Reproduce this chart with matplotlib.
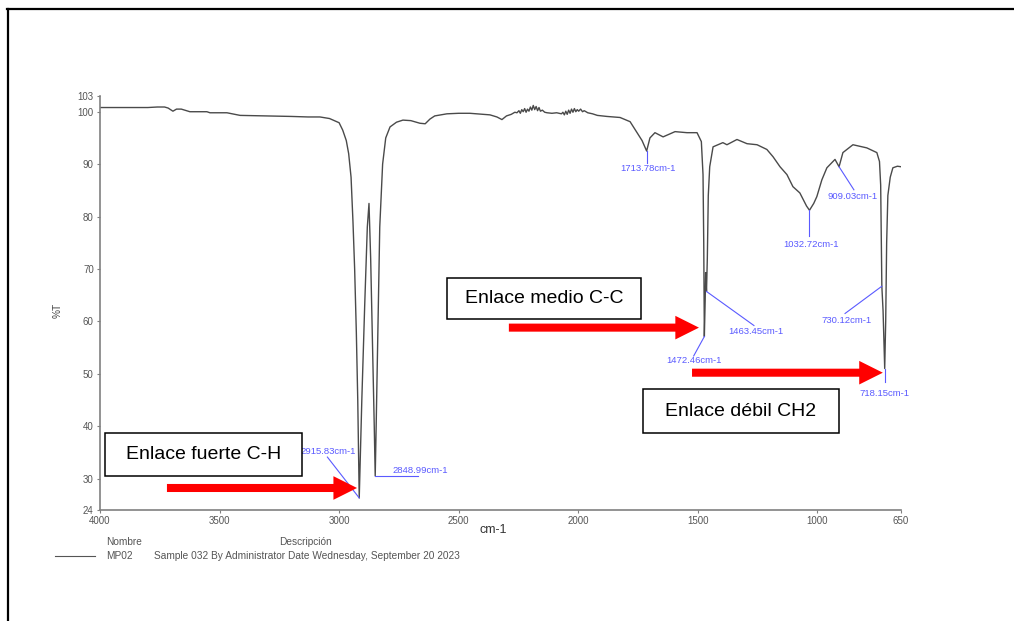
import matplotlib.pyplot as plt
from matplotlib.patches import Rectangle
from matplotlib.lines import Line2D

plt.rcParams['font.family'] = ['Liberation Sans', 'DejaVu Sans']

# espectro IR (cm-1, %T)
wavenumber = [4000, 3900, 3800, 3760, 3730, 3715, 3695, 3680, 3660, 3624, 3553, 3540, 3469, 3414,
              3300, 3200, 3130, 3080, 3040, 3000, 2985, 2970, 2960, 2950, 2942, 2935, 2928, 2922,
              2915.83, 2905, 2893, 2882, 2875, 2868, 2860, 2853, 2848.99, 2845, 2838, 2830, 2818,
              2805, 2787, 2760, 2733, 2700, 2662, 2640, 2620, 2600, 2549, 2500, 2453, 2400, 2369,
              2340, 2319, 2300, 2280, 2265, 2256, 2248, 2242, 2236, 2230, 2224, 2218, 2212, 2206,
              2200, 2194, 2188, 2182, 2176, 2170, 2164, 2158, 2150, 2140, 2130, 2110, 2090, 2070,
              2064, 2058, 2052, 2046, 2040, 2034, 2028, 2022, 2016, 2010, 2004, 1998, 1990, 1982,
              1975, 1960, 1940, 1920, 1880, 1850, 1825, 1783, 1754, 1733, 1713.78, 1700, 1679,
              1645, 1595, 1545, 1503, 1485, 1478, 1475, 1472.46, 1469, 1467, 1463.45, 1460, 1456,
              1450, 1436, 1395, 1378, 1336, 1294, 1252, 1211, 1185, 1156, 1127, 1102, 1073, 1045,
              1032.72, 1015, 1002, 981, 960, 926, 909.03, 893, 851, 793, 751, 740, 735, 732,
              730.12, 725, 718.15, 714, 710, 705, 695, 684, 665, 650]
transmittance = [100.8, 100.8, 100.8, 100.9, 100.9, 100.7, 100.1, 100.5, 100.5, 100.0, 100.0, 99.8, 99.8, 99.3,
                 99.2, 99.1, 99.0, 99.0, 98.7, 97.9, 96.5, 94.5, 92.0, 87.5, 79.0, 70.0, 58.0, 45.0,
                 26.3, 45.0, 63.0, 78.0, 82.5, 72.0, 55.0, 40.0, 30.5, 40.0, 58.0, 78.0, 90.0,
                 95.0, 97.1, 98.0, 98.4, 98.3, 97.8, 97.7, 98.6, 99.2, 99.6, 99.7, 99.7, 99.5, 99.4,
                 99.0, 98.5, 99.2, 99.5, 99.9, 99.8, 100.2, 99.7, 100.4, 100.0, 100.6, 99.9, 100.5, 100.1,
                 100.9, 100.3, 101.2, 100.4, 101.0, 100.2, 100.8, 100.1, 100.3, 99.9, 99.8, 99.7, 99.8, 99.6,
                 99.9, 99.4, 100.1, 99.5, 100.3, 99.7, 100.5, 99.9, 100.6, 100.0, 100.4, 100.1, 100.5, 100.0,
                 100.2, 99.8, 99.6, 99.3, 99.1, 99.0, 98.9, 98.1, 96.0, 94.5, 92.5, 95.0, 96.0,
                 95.2, 96.2, 96.0, 96.0, 94.3, 88.0, 75.0, 57.1, 64.0, 69.3, 65.7, 72.0, 84.0,
                 89.5, 93.3, 94.1, 93.7, 94.7, 93.9, 93.7, 92.8, 91.4, 89.5, 88.0, 85.7, 84.5, 82.0,
                 81.2, 82.5, 83.8, 87.0, 89.3, 90.9, 89.5, 92.2, 93.7, 93.1, 92.2, 90.5, 86.0, 75.0,
                 66.7, 62.0, 51.0, 60.0, 75.0, 84.0, 87.5, 89.3, 89.6, 89.5]

# picos marcados
peak_labels = ["2915.83cm-1", "2848.99cm-1", "1713.78cm-1", "1472.46cm-1", "1463.45cm-1",
               "1032.72cm-1", "909.03cm-1", "730.12cm-1", "718.15cm-1"]
peak_wn = [2915.83, 2848.99, 1713.78, 1472.46, 1463.45, 1032.72, 909.03, 730.12, 718.15]
peak_T = [26.3, 30.5, 92.5, 57.1, 65.7, 81.2, 89.5, 66.7, 51.0]
label_pos = [(3045, 35.2), (2660, 31.6), (1709, 89.1), (1517, 52.6), (1257, 58.1),
             (1027, 74.7), (851, 83.8), (876, 60.2), (718, 46.3)]
leader_end = [(3049, 34.1), (2670, 30.5), (1713.78, 90.3), (1517, 53.4), (1265, 59.2),
              (1032.72, 76.3), (847, 85.1), (884, 61.5), (718.15, 48.4)]

xticks = [4000, 3500, 3000, 2500, 2000, 1500, 1000, 650]
yticks = [24, 30, 40, 50, 60, 70, 80, 90, 100, 103]

W, H = 1014, 621
fig = plt.figure(figsize=(W / 100, H / 100), dpi=100)
ax = fig.add_axes([100 / W, 1 - 510 / H, 801 / W, 414 / H])

ax.plot(wavenumber, transmittance, color='#4a4a4a', lw=1.0)
ax.set_xlim(4000, 650)
ax.set_ylim(24, 103)
ax.set_xticks(xticks)
ax.set_yticks(yticks)
ax.tick_params(labelsize=7, labelcolor='#555555', color='#808080', length=2.5, width=0.8, pad=2)
for s in ['top', 'right']:
    ax.spines[s].set_visible(False)
for s in ['left', 'bottom']:
    ax.spines[s].set_color('#808080')
    ax.spines[s].set_linewidth(1.2)

blue = '#5a5aff'
for lab, wn, t, (tx, ty), (ex, ey) in zip(peak_labels, peak_wn, peak_T, label_pos, leader_end):
    ax.plot([wn, ex], [t, ey], color=blue, lw=0.8, clip_on=False)
    ax.text(tx, ty, lab, color=blue, fontsize=6.8, ha='center', va='center', clip_on=False)

# flechas rojas
arrow_style = 'simple,head_width=17,head_length=17,tail_width=5.8'
for (x0, x1, y) in [(3720, 2925, 28.2), (2290, 1495, 58.8), (1524, 726, 50.2)]:
    ax.annotate('', xy=(x1, y), xytext=(x0, y), annotation_clip=False,
                arrowprops=dict(arrowstyle=arrow_style, mutation_scale=1, color='red',
                                lw=0, shrinkA=0, shrinkB=0))

# cuadros de texto
boxes = [((105, 433, 302, 476), "Enlace fuerte C-H"),
         ((447, 278, 641, 319), "Enlace medio C-C"),
         ((643, 389, 839, 433), "Enlace débil CH2")]
for (x0, y0, x1, y1), txt in boxes:
    fig.add_artist(Rectangle((x0 / W, 1 - y1 / H), (x1 - x0) / W, (y1 - y0) / H,
                             transform=fig.transFigure, facecolor='white', edgecolor='black', lw=1.1))
    fig.text((x0 + x1) / 2 / W, 1 - (y0 + y1) / 2 / H, txt, fontsize=14,
             ha='center', va='center')

fig.text(58 / W, 1 - 310 / H, '%T', rotation=90, fontsize=7.3, color='#444444', ha='center', va='center')
fig.text(493 / W, 1 - 530 / H, 'cm-1', fontsize=9, color='#333333', ha='center', va='center')

# leyenda
fig.text(106 / W, 1 - 542 / H, 'Nombre', fontsize=7.3, color='#555555', va='center')
fig.text(279 / W, 1 - 542 / H, 'Descripción', fontsize=7.3, color='#555555', va='center')
fig.add_artist(Line2D([55 / W, 95 / W], [1 - 556 / H, 1 - 556 / H], transform=fig.transFigure,
                      color='#555555', lw=0.8))
fig.text(106 / W, 1 - 556 / H, 'MP02', fontsize=7.3, color='#555555', va='center')
fig.text(154 / W, 1 - 556 / H, 'Sample 032 By Administrator Date Wednesday, September 20 2023',
         fontsize=7.3, color='#555555', va='center')

# marco exterior
fig.add_artist(Line2D([7 / W, 1], [1 - 9 / H, 1 - 9 / H], transform=fig.transFigure, color='black', lw=1.6))
fig.add_artist(Line2D([7.5 / W, 7.5 / W], [0, 1 - 9 / H], transform=fig.transFigure, color='black', lw=1.6))

fig.savefig('out.png', dpi=100)
